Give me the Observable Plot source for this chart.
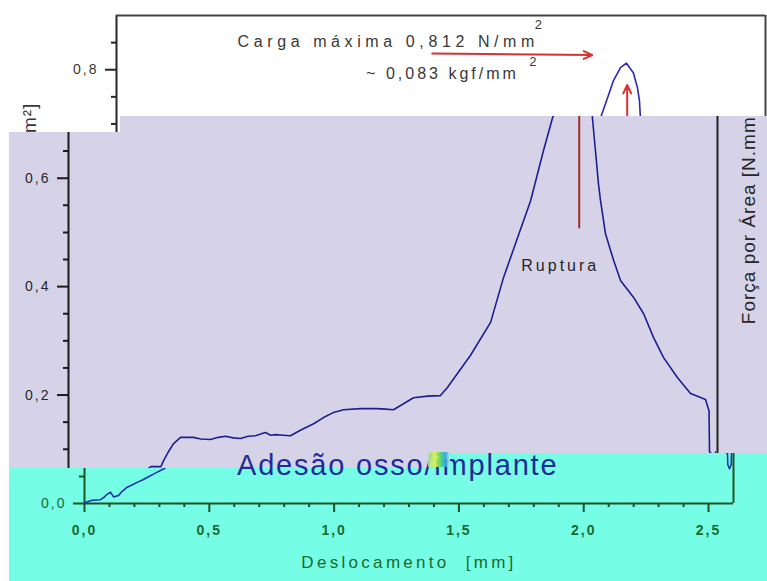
<!DOCTYPE html>
<html><head><meta charset="utf-8">
<script src="https://cdn.jsdelivr.net/npm/d3@7"></script>
<script src="https://cdn.jsdelivr.net/npm/@observablehq/plot@0.6"></script>
<style>
html,body{margin:0;padding:0;background:#fff;}
#wrap{position:relative;width:767px;height:581px;overflow:hidden;background:#fff;font-family:"Liberation Sans",Arial,sans-serif;}
.panel{position:absolute;left:0;top:0;width:767px;height:581px;overflow:hidden;}
.panel svg{position:absolute;top:0;overflow:visible;max-width:none;}
#adesao{position:absolute;left:237px;top:451px;font-size:29px;line-height:29px;letter-spacing:1.8px;color:#1f2c98;white-space:pre;font-family:"Liberation Sans",Arial,sans-serif;}
#blob{position:absolute;left:428px;top:452px;width:22px;height:15px;background:linear-gradient(90deg,#a8e0b0,#e6f040 35%,#3cd070 60%,#3aa0f0 80%,#b8f0e0);opacity:.9;}
</style></head>
<body><div id="wrap"></div>
<script>
// data
const deslocamento = [0.000,0.004,0.030,0.064,0.080,0.088,0.104,0.117,0.137,0.150,0.171,0.190,0.211,0.230,0.251,0.284,0.318,0.330,0.370,0.380,0.400,0.420,0.449,0.501,0.530,0.569,0.600,0.629,0.660,0.689,0.720,0.749,0.770,0.789,0.810,0.829,0.860,0.889,0.929,0.982,1.020,1.062,1.102,1.170,1.238,1.270,1.302,1.342,1.382,1.440,1.490,1.518,1.538,1.610,1.691,1.743,1.799,1.851,1.903,1.939,1.967,1.991,2.019,2.043,2.071,2.087,2.095,2.099,2.111,2.123,2.131,2.151,2.184,2.212,2.264,2.304,2.344,2.384,2.440,2.492,2.530,2.552,2.566,2.568,2.576,2.577,2.584,2.591,2.592];
const forca = [0.000,0.002,0.006,0.007,0.012,0.016,0.021,0.012,0.015,0.022,0.030,0.034,0.039,0.043,0.048,0.056,0.064,0.068,0.068,0.078,0.095,0.110,0.122,0.122,0.119,0.118,0.122,0.124,0.121,0.120,0.124,0.125,0.128,0.131,0.126,0.127,0.126,0.125,0.135,0.147,0.158,0.168,0.173,0.175,0.175,0.174,0.173,0.184,0.195,0.198,0.199,0.214,0.227,0.273,0.334,0.417,0.490,0.558,0.651,0.711,0.748,0.780,0.804,0.812,0.794,0.767,0.743,0.711,0.651,0.590,0.560,0.498,0.448,0.411,0.380,0.350,0.306,0.269,0.232,0.203,0.196,0.192,0.171,0.095,0.092,0.072,0.064,0.072,0.095];
const xMajor = [0, 0.5, 1.0, 1.5, 2.0, 2.5];
const xMinor = [0.1,0.2,0.3,0.4,0.6,0.7,0.8,0.9,1.1,1.2,1.3,1.4,1.6,1.7,1.8,1.9,2.1,2.2,2.3,2.4];
const yMajor = [0, 0.2, 0.4, 0.6, 0.8];
const yMinor = [0.05,0.1,0.15,0.25,0.3,0.35,0.45,0.5,0.55,0.65,0.7,0.75,0.85];
const xTitle = "Deslocamento  [mm]";
const yTitle = "Força por Área [N.mm²]";
const annotations = [
  {x: 0.485, y: 0.851, text: "Carga máxima 0,812 N/mm"},
  {x: 1.000, y: 0.792, text: "~ 0,083 kgf/mm"}
];
const supers = [
  {x: 1.690, y: 0.883, text: "2"},
  {x: 1.668, y: 0.814, text: "2"}
];
const ruptura = [{x: 1.97, y: 0.439, text: "Ruptura"}];
const yLabelPos = [{x: 2.724, y: 0.535, text: yTitle}];
const arrowMax = [{x1: 1.265, y1: 0.830, x2: 1.906, y2: 0.827}];
const arrowRuptura = [{x1: 2.046, y1: 0.509, x2: 2.046, y2: 0.772}];

const curve = deslocamento.map((d, i) => ({x: d, y: forca[i]}));
const fmt = d => d.toFixed(1).replace(".", ",");
const FONT = "Liberation Sans, Arial, sans-serif";
const spacing = new Map([
  [annotations[0].text, "4.6px"], [annotations[1].text, "3px"], ["Ruptura", "3px"],
  [xTitle, "3.3px"], [yTitle, "1px"]
]);

// parts: which marks a copy of the chart draws (the rest is hidden under other panels)
function chart(c, parts) {
  const has = k => parts.includes(k);
  const marks = [];
  if (has("axes")) {
    marks.push(
      Plot.axisX({ticks: xMinor, tickSize: 4, tickFormat: () => "", stroke: c.axis, strokeWidth: 2, label: null}),
      Plot.axisX({ticks: xMajor, tickSize: 9, tickPadding: 13, tickFormat: has("xticklabels") ? fmt : () => "", stroke: c.axis, strokeWidth: 2, fill: c.text, fontSize: 14, fontWeight: "bold", label: null}),
      Plot.axisY({ticks: yMinor, tickSize: 5, tickFormat: () => "", stroke: c.axis, strokeWidth: 2, label: null}),
      Plot.axisY({ticks: yMajor, tickSize: 11, tickPadding: 7, tickFormat: d => c.yLabels.includes(d) ? fmt(d) : "", stroke: c.axis, strokeWidth: 2, fill: c.text, fontSize: 14, label: null}),
      Plot.ruleX([0], {stroke: c.axis, strokeWidth: 2}),
      Plot.ruleY([0], {stroke: c.axis, strokeWidth: 2}),
      Plot.ruleY([0.9], {stroke: c.frame, strokeWidth: 2}),
      Plot.ruleX([2.6], {stroke: c.frame, strokeWidth: 2})
    );
  }
  if (has("curve")) marks.push(Plot.line(curve, {x: "x", y: "y", stroke: c.line, strokeWidth: 1.6}));
  if (has("arrows")) marks.push(
    Plot.arrow(arrowMax, {x1: "x1", y1: "y1", x2: "x2", y2: "y2", stroke: c.red, strokeWidth: 2, headLength: 7, headAngle: 50}),
    Plot.arrow(arrowRuptura, {x1: "x1", y1: "y1", x2: "x2", y2: "y2", stroke: c.red, strokeWidth: 2, headLength: 7, headAngle: 50})
  );
  if (has("annot")) marks.push(
    Plot.text(annotations, {x: "x", y: "y", text: "text", textAnchor: "start", fontSize: 16, fill: c.text}),
    Plot.text(supers, {x: "x", y: "y", text: "text", fontSize: 13, fill: c.text})
  );
  if (has("ruptura")) marks.push(Plot.text(ruptura, {x: "x", y: "y", text: "text", fontSize: 16, fill: c.text}));
  if (has("ylabel")) marks.push(Plot.text(yLabelPos, {x: "x", y: "y", text: "text", rotate: -90, fontSize: 19, fill: c.text}));
  if (has("xlabel")) marks.push(Plot.text([xTitle], {frameAnchor: "bottom", dy: 64, text: d => d, fontSize: 17, fill: c.text}));

  const noAxes = !has("axes");
  const svg = Plot.plot({
    width: 767, height: 581,
    marginLeft: 84, marginRight: 34, marginTop: 15, marginBottom: 78,
    x: noAxes ? {domain: [0, 2.6], axis: null} : {domain: [0, 2.6]},
    y: noAxes ? {domain: [0, 0.9], axis: null} : {domain: [0, 0.9]},
    style: {background: "transparent", overflow: "visible", fontFamily: FONT, fontSize: "14px", color: c.text},
    marks
  });
  d3.select(svg).selectAll("text").each(function() {
    const t = this.textContent;
    if (t === "") { this.remove(); return; }
    if (spacing.has(t)) this.style.letterSpacing = spacing.get(t);
    else if (/^\d,\d$/.test(t)) this.style.letterSpacing = "2px";
  });
  return svg;
}

const wrap = document.getElementById("wrap");
function addPanel(bg, clip, copies, colors) {
  const div = document.createElement("div");
  div.className = "panel";
  div.style.background = bg;
  if (clip) div.style.clipPath = clip;
  for (const [dx, parts] of copies) {
    const svg = chart(colors, parts);
    svg.style.left = dx + "px";
    div.appendChild(svg);
  }
  wrap.appendChild(div);
}

addPanel("#ffffff", null,
  [[32, ["axes", "curve", "arrows", "annot"]], [32 - 767, ["ylabel"]]],
  {axis: "#262626", text: "#383838", frame: "#444444", line: "#2a2ab4", red: "#d63232", yLabels: [0.8]});
addPanel("#d6d3e8", "polygon(9px 132px, 120px 132px, 120px 116px, 767px 116px, 767px 468px, 9px 468px)",
  [[-16, ["axes", "curve", "arrows", "ruptura", "ylabel"]]],
  {axis: "#1a1a1a", text: "#262626", frame: "#222222", line: "#1e1e90", red: "#a82a2a", yLabels: [0.2, 0.4, 0.6]});
addPanel("#76fde6", "polygon(9px 468px, 430px 468px, 430px 453px, 767px 453px, 767px 581px, 9px 581px)",
  [[0, ["axes", "curve", "xticklabels", "xlabel"]]],
  {axis: "#1d5227", text: "#1a6a2c", frame: "#1d5227", line: "#1a34a8", red: "#a03030", yLabels: [0]});

const ad = document.createElement("div");
ad.id = "adesao"; ad.textContent = "Adesão osso/implante";
wrap.appendChild(ad);
const blob = document.createElement("div");
blob.id = "blob";
wrap.appendChild(blob);
</script>
</body></html>
